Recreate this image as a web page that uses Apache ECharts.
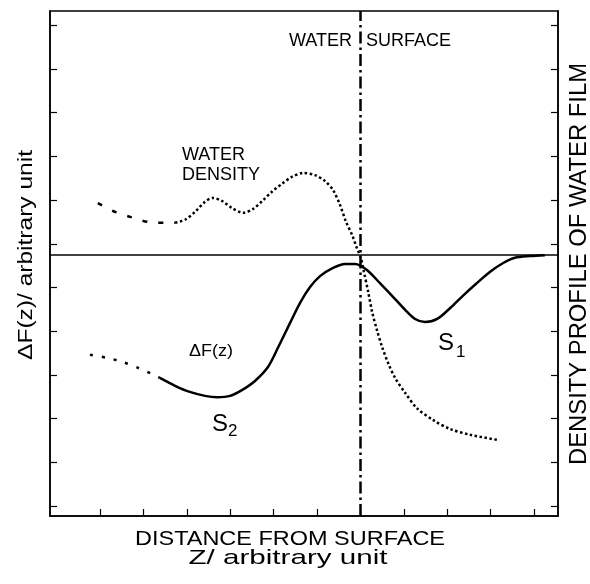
<!DOCTYPE html>
<html><head><meta charset="utf-8">
<script src="https://cdn.jsdelivr.net/npm/echarts@6/dist/echarts.min.js"></script>
<style>html,body{margin:0;padding:0;background:#fff}#c{width:590px;height:584px}</style>
</head><body><div id="c"></div>
<script>
// ---- data (arbitrary units) ----
const xTicks = [0,1,2,3,4,5,6,7,8,9,10];
const yTicks = [0,1,2,3,4,5,6,7,8,9,10,11];
const surfaceZ = 6;
const baselineLevel = 5.74;
// water density profile: sparse dashed start, dotted rest
const densityTail = [[-0.05,6.93],[0.30,6.75],[0.71,6.61],[1.11,6.50],[1.52,6.48],[1.73,6.48]];
const densityMain = [[1.73,6.48],[1.96,6.55],[2.19,6.73],[2.42,6.96],[2.60,7.05],[2.81,6.98],[3.04,6.82],[3.30,6.71],
  [3.53,6.80],[3.76,7.00],[3.96,7.19],[4.19,7.37],[4.42,7.53],[4.68,7.62],[4.95,7.57],[5.18,7.44],[5.37,7.23],
  [5.53,6.89],[5.67,6.50],[5.81,6.20],[5.92,5.90],[6.01,5.68],[6.08,5.36],[6.18,4.90],[6.27,4.44],[6.38,4.03],
  [6.50,3.64],[6.64,3.27],[6.80,2.93],[7.03,2.59],[7.30,2.24],[7.67,1.97],[8.07,1.76],[8.53,1.63],[9.17,1.51]];
// delta F(z): dotted start, solid rest
const dFTail = [[-0.23,3.46],[0.16,3.39],[0.51,3.30],[0.88,3.16],[1.20,3.02],[1.38,2.93]];
const dFMain = [[1.38,2.93],[1.73,2.75],[2.07,2.61],[2.42,2.52],[2.70,2.49],[3.00,2.52],[3.27,2.65],[3.57,2.86],
  [3.87,3.18],[4.10,3.62],[4.38,4.19],[4.61,4.65],[4.84,5.01],[5.07,5.26],[5.37,5.45],[5.65,5.54],[5.88,5.54],
  [6.15,5.40],[6.45,5.10],[6.73,4.81],[7.03,4.49],[7.26,4.28],[7.49,4.21],[7.77,4.28],[8.07,4.53],[8.36,4.81],
  [8.66,5.08],[8.99,5.36],[9.29,5.56],[9.56,5.68],[9.91,5.72],[10.25,5.74]];

const FF = "'Liberation Sans', Arial, Helvetica, sans-serif";
const mctx = document.createElement('canvas').getContext('2d');
function stretch(text, size, w){ mctx.font = size + 'px ' + FF; return w / mctx.measureText(text).width; }
function txt(text, x, y, size, opt){
  opt = opt || {};
  return {type:'text', x:x, y:y, rotation:opt.rot||0, scaleX:opt.w?stretch(text,size,opt.w):1, z:100,
    style:{text:text, font:size+'px '+FF, fill:'#000', textAlign:opt.align||'center', textVerticalAlign:'middle'}};
}
const black = '#000';
function axis(extra, ticks){
  return Object.assign({type:'value',
    axisLine:{show:true,onZero:false,lineStyle:{color:black,width:1.5}},
    axisTick:{show:true,inside:true,length:7,customValues:ticks,lineStyle:{color:black,width:1.2}},
    axisLabel:{show:false}, splitLine:{show:false}}, extra);
}
const chart = echarts.init(document.getElementById('c'), null, {renderer:'canvas'});
chart.setOption({
  animation:false,
  backgroundColor:'#fff',
  grid:{left:50, top:11, width:508, height:505, show:true, borderColor:black, borderWidth:1.5, containLabel:false},
  xAxis:axis({min:-1.152, max:10.553}, xTicks),
  yAxis:[
    axis({position:'left', min:-0.229, max:11.327}, yTicks),
    axis({position:'right', min:-0.229, max:11.327}, yTicks)
  ],
  series:[
    {type:'line', name:'ΔF(z) tail', data:dFTail, smooth:0.3, showSymbol:false, lineStyle:{color:black,width:2.5,type:[3,9]}},
    {type:'line', name:'ΔF(z)', data:dFMain, smooth:0.3, showSymbol:false, lineStyle:{color:black,width:2.5},
      markLine:{silent:true, symbol:'none', label:{show:false},
        data:[
          {yAxis:baselineLevel, lineStyle:{color:black,width:1.5,type:'solid'}},
          {xAxis:surfaceZ, lineStyle:{color:black,width:2.5,type:[12,4,2.5,4]}}
        ]}},
    {type:'line', name:'density tail', yAxisIndex:1, data:densityTail, smooth:0.3, showSymbol:false, lineStyle:{color:black,width:2.5,type:[5,11]}},
    {type:'line', name:'water density', yAxisIndex:1, data:densityMain, smooth:0.3, showSymbol:false, lineStyle:{color:black,width:2.5,type:[2.5,2.5]}}
  ],
  graphic:[
    txt('DISTANCE FROM SURFACE', 290, 539, 21, {w:310}),
    txt('Z/ arbitrary unit', 288, 558, 21, {w:199}),
    txt('ΔF(z)/ arbitrary unit', 26, 255, 21, {w:210, rot:Math.PI/2}),
    txt('DENSITY PROFILE OF WATER FILM', 580, 264, 23, {w:402, rot:Math.PI/2}),
    txt('WATER', 352, 41, 18, {align:'right'}),
    txt('SURFACE', 366, 41, 18, {align:'left'}),
    txt('WATER', 182, 155, 18, {align:'left'}),
    txt('DENSITY', 182, 175, 18, {align:'left'}),
    txt('ΔF(z)', 189, 352, 16, {align:'left', w:44}),
    txt('S', 212, 424, 24, {align:'left'}),
    txt('2', 228, 431, 17, {align:'left'}),
    txt('S', 438, 343, 24, {align:'left'}),
    txt('1', 456, 352, 17, {align:'left'})
  ]
});
</script></body></html>
